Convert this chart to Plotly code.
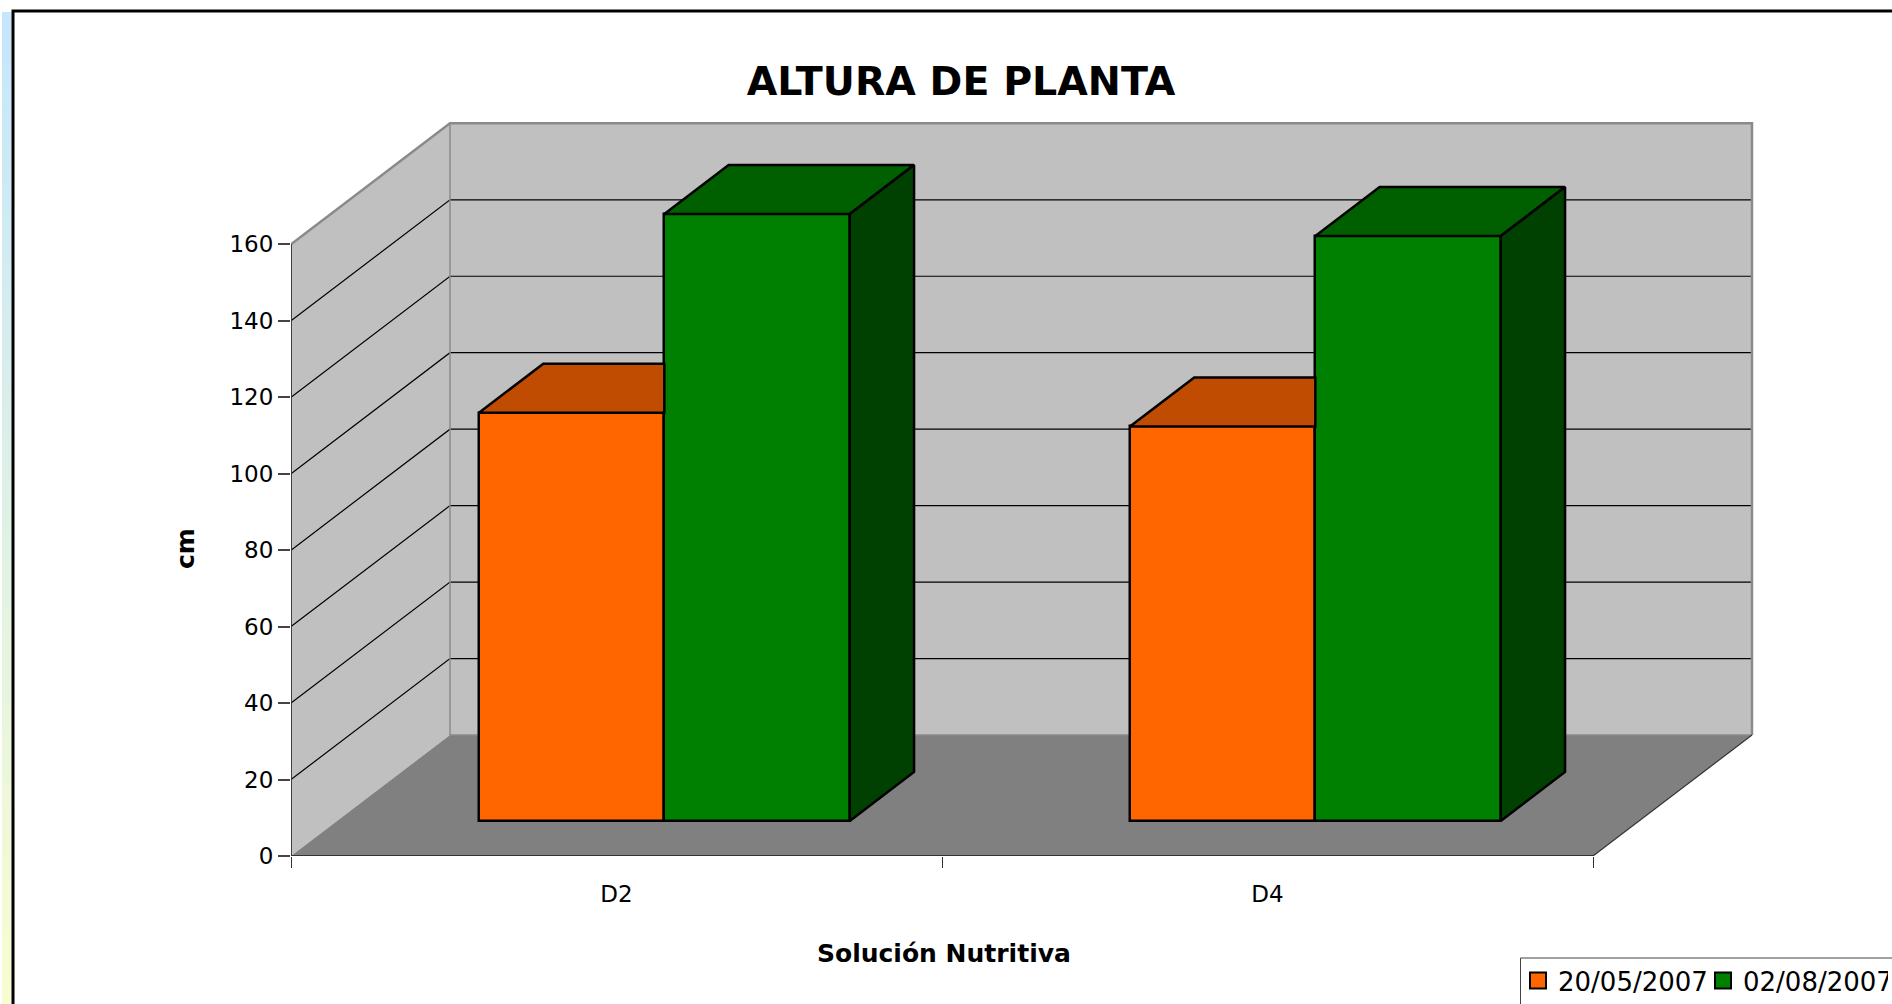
import plotly.graph_objects as go

# ---- data ----
categories = ["D2", "D4"]
series_names = ["20/05/2007", "02/08/2007"]
values_first = [106.8, 103.2]
values_second = [158.8, 153.0]
y_ticks = [0, 20, 40, 60, 80, 100, 120, 140, 160]

# ---- colours ----
FRONT = ["#ff6600", "#008000"]
TOP = ["#bf4c00", "#006000"]
SIDE = ["#803300", "#004000"]
WALL, FLOOR, EDGE = "#c0c0c0", "#808080", "#8a8a8a"

# ---- layout geometry (page pixels) ----
W, H = 1892, 1004
PLOT_L, PLOT_B, PLOT_R, PLOT_T = 291, 856, 1772, 108
PX_CAT, PX_CM = 651.0, 3.823
YMAX = y_ticks[-1]
NCAT = len(categories)
DX, DY = 159 / PX_CAT, 121 / PX_CM          # depth of the chart box, data units
BDX, BDY = 64.3 / PX_CAT, 49 / PX_CM        # depth of one bar
ODX = (DX - BDX) / 2 + 0.5 / PX_CAT         # bar inset from the front plane
ODY = (DY - BDY) / 2 - 1.0 / PX_CM
BAR_W = 185.4 / PX_CAT

def px(x):
    return (x - PLOT_L) / (PLOT_R - PLOT_L)

def py(y):
    return (PLOT_B - y) / (PLOT_B - PLOT_T)

fig = go.Figure()

# ---- chart box: walls, floor, grid ----
shapes = []
def poly(pts, fill=None, color=None, width=0):
    d = "M" + "L".join(f"{x},{y}" for x, y in pts) + ("Z" if fill else "")
    shapes.append(dict(type="path", path=d, xref="x", yref="y", layer="below",
                       fillcolor=fill or "rgba(0,0,0,0)",
                       line=dict(color=color or "rgba(0,0,0,0)", width=width)))

xe = float(NCAT)
poly([(0, 0), (DX, DY), (DX, YMAX + DY), (0, YMAX)], fill=WALL)
poly([(DX, DY), (xe + DX, DY), (xe + DX, YMAX + DY), (DX, YMAX + DY)], fill=WALL)
poly([(0, 0), (DX, DY), (xe + DX, DY), (xe, 0)], fill=FLOOR)
for t in y_ticks[1:-1]:
    poly([(0, t), (DX, t + DY), (xe + DX, t + DY)], color="#000000", width=1.2)
poly([(0, YMAX), (DX, YMAX + DY), (xe + DX, YMAX + DY), (xe + DX, DY)], color=EDGE, width=2.5)
poly([(DX, YMAX + DY), (DX, DY), (xe + DX, DY)], color=EDGE, width=1.5)
poly([(xe, 0), (xe + DX, DY)], color="#333333", width=1.2)

# ---- page decoration: left strip and frame, legend box ----
N = 40
c0, c1 = (197, 230, 252), (248, 252, 208)
for i in range(N):
    f = i / (N - 1)
    col = "rgb(" + ",".join(str(round(a + (b - a) * f)) for a, b in zip(c0, c1)) + ")"
    y0 = 12 + (H - 12) * i / N
    y1 = 12 + (H - 12) * (i + 1) / N + 1
    shapes.append(dict(type="rect", xref="paper", yref="paper", layer="below",
                       x0=px(2), x1=px(11.5), y0=py(y0), y1=py(y1),
                       fillcolor=col, line=dict(width=0)))
shapes.append(dict(type="path", xref="paper", yref="paper", layer="above",
                   path=f"M{px(13)},{py(H + 5)}L{px(13)},{py(11)}L{px(W + 5)},{py(11)}",
                   fillcolor="rgba(0,0,0,0)", line=dict(color="#000000", width=3)))
shapes.append(dict(type="path", xref="paper", yref="paper", layer="below",
                   path=f"M{px(1520.5)},{py(H + 5)}L{px(1520.5)},{py(958)}L{px(W + 5)},{py(958)}",
                   fillcolor="rgba(0,0,0,0)", line=dict(color="#444444", width=1)))

# ---- bars: front faces ----
centers = [i + 0.5 + ODX for i in range(NCAT)]
for k, vals in enumerate([values_first, values_second]):
    fig.add_trace(go.Bar(
        x=[c + (k - 0.5) * BAR_W for c in centers], y=vals, base=[ODY] * NCAT,
        width=BAR_W, name=series_names[k], showlegend=False,
        marker=dict(color=FRONT[k], line=dict(color="#000000", width=2.5))))

# ---- bars: top and side faces, derived from the values ----
def face(xs, ys, color):
    fig.add_trace(go.Scatter(x=xs, y=ys, mode="lines", fill="toself", fillcolor=color,
                             line=dict(color="#000000", width=2.5), showlegend=False,
                             hoverinfo="skip", cliponaxis=False))

for c, a, b in zip(centers, values_first, values_second):
    ta, tb = ODY + a, ODY + b
    xl, xm, xr = c - BAR_W, c, c + BAR_W
    face([xl, xl + BDX, xm, xm, xl], [ta, ta + BDY, ta + BDY, ta, ta], TOP[0])
    face([xm, xm + BDX, xr + BDX, xr, xm], [tb, tb + BDY, tb + BDY, tb, tb], TOP[1])
    face([xr, xr + BDX, xr + BDX, xr, xr],
         [tb, tb + BDY, ODY + BDY, ODY, tb], SIDE[1])

# ---- axis lines ----
for xs, ys in [([0, 0], [0, YMAX]), ([0, xe], [0, 0])]:
    fig.add_trace(go.Scatter(x=xs, y=ys, mode="lines", showlegend=False, hoverinfo="skip",
                             line=dict(color="#333333", width=1.8), cliponaxis=False))

# ---- legend entries ----
for k in range(2):
    fig.add_trace(go.Scatter(x=[None], y=[None], mode="markers", name=series_names[k],
                             marker=dict(symbol="square", size=16, color=FRONT[k],
                                         line=dict(color="#000000", width=2))))

FONT = "DejaVu Sans"
fig.update_layout(
    width=W, height=H, autosize=False,
    margin=dict(l=PLOT_L, r=W - PLOT_R, t=PLOT_T, b=H - PLOT_B, pad=0, autoexpand=False),
    paper_bgcolor="#ffffff", plot_bgcolor="rgba(0,0,0,0)",
    barmode="overlay", bargap=0,
    font=dict(family=FONT, color="#000000"),
    title=dict(text="<b>ALTURA DE PLANTA</b>", font=dict(size=39.5, family=FONT),
               x=961 / W, xref="container", xanchor="center",
               y=1 - 81 / H, yref="container", yanchor="middle"),
    xaxis=dict(range=[0, (PLOT_R - PLOT_L) / PX_CAT], showgrid=False, zeroline=False,
               tickmode="array", tickvals=[i + 0.5 for i in range(NCAT)], ticktext=categories,
               ticks="", tickfont=dict(size=23), ticklabelstandoff=22,
               minor=dict(tickmode="array", tickvals=list(range(NCAT + 1)), ticks="outside",
                          ticklen=11, tickwidth=1, tickcolor="#333333", showgrid=False)),
    yaxis=dict(range=[0, (PLOT_B - PLOT_T) / PX_CM], showgrid=False, zeroline=False,
               tickmode="array", tickvals=y_ticks, ticks="outside", ticklen=12, tickwidth=1.5,
               tickcolor="#444444", tickfont=dict(size=23)),
    legend=dict(orientation="h", x=px(1518), y=py(957), xanchor="left", yanchor="top",
                font=dict(size=26), bgcolor="rgba(0,0,0,0)", borderwidth=0,
                entrywidth=140, entrywidthmode="pixels",
                itemclick=False, itemdoubleclick=False),
    shapes=shapes,
    annotations=[
        dict(text="<b>Solución Nutritiva</b>", xref="paper", yref="paper", x=px(943.5), y=py(953),
             showarrow=False, font=dict(size=25), xanchor="center", yanchor="middle"),
        dict(text="<b>cm</b>", xref="paper", yref="paper", x=px(185), y=py(549), textangle=-90,
             showarrow=False, font=dict(size=25), xanchor="center", yanchor="middle"),
    ],
)

fig.write_html("out.html", config=dict(displayModeBar=False),
               post_script="document.body.style.margin='0';document.body.style.overflow='hidden';")
